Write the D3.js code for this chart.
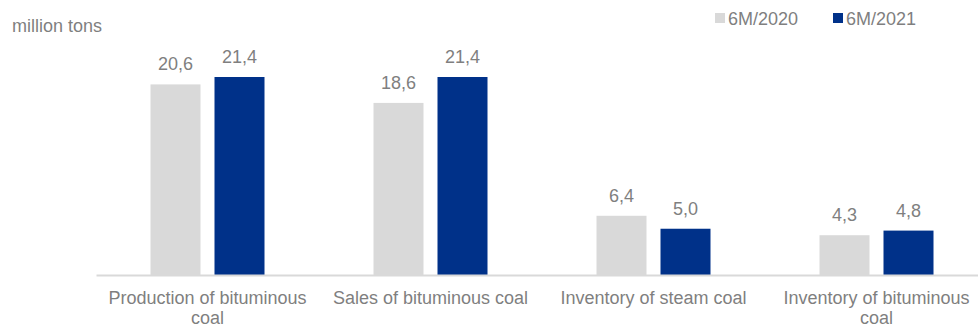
<!DOCTYPE html>
<html>
<head>
<meta charset="utf-8">
<script src="https://cdn.jsdelivr.net/npm/d3@7"></script>
<style>
  html, body { margin: 0; padding: 0; background: #fff; }
  svg { display: block; font-family: "Liberation Sans", Arial, sans-serif; }
</style>
</head>
<body>
<svg id="chart" width="978" height="328"></svg>
<script>
// Coal figures, first half of each year (million tons)
const categories = [
  "Production of bituminous coal",
  "Sales of bituminous coal",
  "Inventory of steam coal",
  "Inventory of bituminous coal"
];
const seriesNames = ["6M/2020", "6M/2021"];
const values2020 = [20.6, 18.6, 6.4, 4.3];
const values2021 = [21.4, 21.4, 5.0, 4.8];
const unitLabel = "million tons";

const colors = { "6M/2020": "#d9d9d9", "6M/2021": "#003189" };
const textColor = "#7f7f7f";
const fontSize = 18;

const svg = d3.select("#chart");
const left = 96, right = 988, baseY = 275;

const rows = categories.map((c, i) => ({
  category: c,
  values: [
    { series: seriesNames[0], value: values2020[i] },
    { series: seriesNames[1], value: values2021[i] }
  ]
}));

const x0 = d3.scaleBand().domain(categories).range([left, right]).padding(0);
const x1 = d3.scaleBand().domain(seriesNames).range([0, 114]).paddingInner(0.21875).paddingOuter(0);
const y = d3.scaleLinear().domain([0, 21.4]).range([baseY, 77]);

const fmt = v => d3.format(".1f")(v).replace(".", ",");

// bars
const groups = svg.selectAll("g.grp").data(rows).join("g")
  .attr("class", "grp")
  .attr("transform", d => `translate(${x0(d.category) + x0.bandwidth() / 2 - 57},0)`);

groups.selectAll("rect").data(d => d.values).join("rect")
  .attr("x", d => x1(d.series))
  .attr("y", d => y(d.value))
  .attr("width", x1.bandwidth())
  .attr("height", d => y(0) - y(d.value))
  .attr("fill", d => colors[d.series]);

groups.selectAll("text.val").data(d => d.values).join("text")
  .attr("class", "val")
  .attr("x", d => x1(d.series) + x1.bandwidth() / 2)
  .attr("y", d => y(d.value) - 14)
  .attr("text-anchor", "middle")
  .attr("font-size", fontSize)
  .attr("fill", textColor)
  .text(d => fmt(d.value));

// baseline axis
const xAxis = d3.axisBottom(x0).tickSize(0).tickPadding(0).tickFormat("");
const axisG = svg.append("g").attr("transform", `translate(0,${baseY})`).call(xAxis);
axisG.select(".domain").attr("stroke", "#d9d9d9").attr("stroke-width", 2);

// category labels, wrapped to the band width
function wrap(textSel, width) {
  textSel.each(function () {
    const text = d3.select(this);
    const words = text.text().split(/\s+/);
    const xPos = text.attr("x");
    text.text(null);
    let line = [];
    let tspan = text.append("tspan").attr("x", xPos).attr("dy", 0);
    words.forEach(w => {
      line.push(w);
      tspan.text(line.join(" "));
      if (tspan.node().getComputedTextLength() > width && line.length > 1) {
        line.pop();
        tspan.text(line.join(" "));
        line = [w];
        tspan = text.append("tspan").attr("x", xPos).attr("dy", 20).text(w);
      }
    });
  });
}

svg.append("g").selectAll("text").data(categories).join("text")
  .attr("x", d => x0(d) + x0.bandwidth() / 2)
  .attr("y", 304)
  .attr("text-anchor", "middle")
  .attr("font-size", fontSize)
  .attr("fill", textColor)
  .text(d => d)
  .call(wrap, x0.bandwidth());

// unit label
svg.append("text")
  .attr("x", 12).attr("y", 32)
  .attr("font-size", fontSize)
  .attr("fill", textColor)
  .text(unitLabel);

// legend
const legendX = [715, 833];
const legend = svg.append("g").selectAll("g").data(seriesNames).join("g")
  .attr("transform", (d, i) => `translate(${legendX[i]},13)`);
legend.append("rect").attr("width", 10).attr("height", 10).attr("fill", d => colors[d]);
legend.append("text").attr("x", 13).attr("y", 12)
  .attr("font-size", fontSize).attr("fill", textColor).text(d => d);
</script>
</body>
</html>
